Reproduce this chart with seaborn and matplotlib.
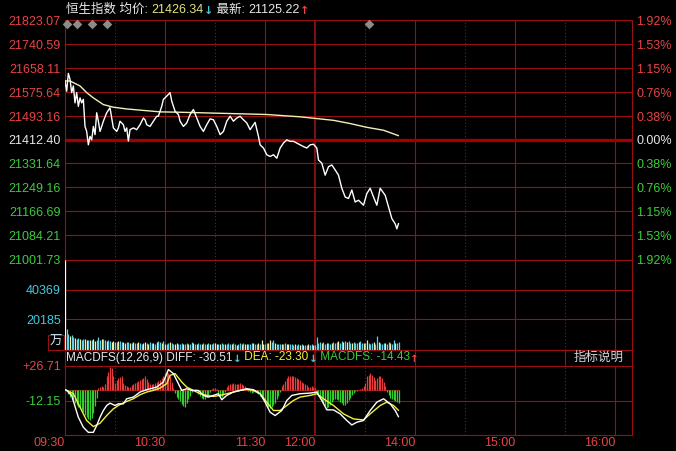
import numpy as np
import pandas as pd
import matplotlib
matplotlib.use("Agg")
import matplotlib.pyplot as plt
import seaborn as sns

# ---- price panel: minutes since 09:30 (lunch break removed) ----
price_min = [0, 1, 2, 3, 4, 5, 6, 7, 8, 9,
             10, 11, 12, 13, 14, 15, 16, 17, 18, 19,
             20, 21, 22, 23, 25, 27, 28, 29, 31, 32,
             33, 35, 36, 37, 38, 39, 41, 43, 45, 47,
             48, 49, 51, 53, 55, 56, 58, 59, 61, 63,
             64, 66, 68, 69, 71, 73, 75, 77, 79, 81,
             83, 85, 87, 89, 91, 93, 95, 97, 99, 101,
             103, 105, 107, 109, 111, 113, 114, 116, 117, 119,
             121, 123, 125, 127, 129, 131, 133, 135, 137, 139,
             141, 143, 145, 147, 149, 151, 152, 154, 156, 158,
             160, 162, 164, 166, 168, 170, 172, 174, 176, 179,
             181, 183, 185, 187, 189, 192, 194, 196, 198, 199,
             200]
price_val = [21614, 21579, 21640, 21620, 21574, 21597, 21539, 21574, 21527, 21556,
             21539, 21551, 21458, 21441, 21395, 21424, 21412, 21458, 21430, 21505,
             21476, 21441, 21458, 21476, 21505, 21522, 21487, 21453, 21441, 21453,
             21476, 21464, 21441, 21453, 21408, 21447, 21453, 21447, 21464, 21487,
             21481, 21464, 21458, 21476, 21493, 21493, 21527, 21551, 21562, 21574,
             21545, 21510, 21499, 21476, 21458, 21470, 21499, 21516, 21487, 21458,
             21441, 21464, 21484, 21481, 21458, 21430, 21441, 21476, 21493, 21476,
             21487, 21493, 21481, 21470, 21447, 21464, 21472, 21424, 21395, 21384,
             21361, 21355, 21361, 21349, 21384, 21401, 21412, 21407, 21407, 21401,
             21395, 21389, 21384, 21395, 21397, 21384, 21343, 21332, 21291, 21320,
             21326, 21309, 21291, 21246, 21216, 21211, 21240, 21199, 21205, 21188,
             21228, 21246, 21216, 21188, 21246, 21222, 21182, 21142, 21124, 21107,
             21125.22]
avg_min = [0, 3, 9, 13, 17, 23, 29, 37, 47, 57, 67, 81, 101, 121, 141, 151, 161, 171, 181, 191, 200]
avg_val = [21614, 21614, 21597, 21574, 21556, 21533, 21524, 21518, 21513, 21508, 21507,
           21505, 21502, 21499, 21491, 21485, 21479, 21468, 21455, 21445, 21426.34]
price_ticks = [21823.07, 21740.59, 21658.11, 21575.64, 21493.16, 21412.40,
               21331.64, 21249.16, 21166.69, 21084.21, 21001.73]
pct_labels = ["1.92%", "1.53%", "1.15%", "0.76%", "0.38%", "0.00%",
              "0.38%", "0.76%", "1.15%", "1.53%", "1.92%"]
prev_close = 21412.40
news_min = [1, 7, 16, 25, 182]

# ---- volume (万), one bar per minute ----
volume = [60554, 13700, 10100, 9200, 9500, 8300, 8000, 7400, 7800, 7000,
          6500, 7200, 6800, 6500, 6600, 6100, 6500, 6800, 6000, 6300,
          8500, 6400, 7200, 6900, 6100, 5800, 6200, 5500, 5200, 5800,
          5200, 5000, 5900, 5600, 5200, 4900, 4500, 5300, 5000, 4600,
          4500, 4800, 4200, 4500, 5100, 4400, 4000, 4500, 4800, 4200,
          4000, 5000, 4600, 4100, 3800, 5200, 5800, 5000, 4300, 5600,
          4000, 3800, 4600, 5200, 4400, 3600, 3900, 4200, 3400, 3800,
          4100, 3500, 3800, 4200, 3600, 3900, 4800, 4300, 3700, 4000,
          4500, 3800, 3600, 4600, 4000, 3700, 4300, 3900, 3500, 4200,
          4700, 3900, 3600, 4000, 4400, 3800, 3500, 3900, 4100, 3600,
          3800, 4500, 3900, 3300, 3700, 4200, 3800, 4600, 4000, 3500,
          3400, 3800, 4300, 4600, 3700, 3900, 4400, 4000, 6300, 3800,
          3500, 4500, 4100, 6700, 5000, 6500, 4200, 3600, 4000, 3800,
          3500, 3900, 4300, 3700, 3500, 3900, 3600, 3300, 3700, 3200,
          3500, 3000, 3400, 3200, 3000, 3300, 3600, 3100, 3400, 3000,
          3300, 8500, 4600, 5000, 4300, 4800, 4000, 4500, 4200, 3800,
          4600, 5200, 4500, 4800, 5500, 4600, 5800, 5000, 6000, 4800,
          5400, 4500, 4700, 5300, 4600, 4200, 4800, 5600, 4400, 4100,
          4500, 6300, 4200, 3600, 4400, 4800, 4000, 9200, 5000, 4200,
          3900, 4600, 4300, 3800, 5000, 4500, 4000, 6300, 4600, 4100,
          5200]
vol_dir = ("w"
           "ccyccyccyccyycycyycc" "cyccyccyyccyccyyccyc"
           "yccyccyycyccycyccycy" "ccyccyycccyccyccycyc"
           "cyccycyccyycyccycccy" "ccyccycyycccyccycyyc"
           "cyyccycccyccyycccycc" "ycyccyccyccccyccyccy"
           "cccyccycyccycccyccyc" "ycccyccycccyccyccycc")
vol_ticks = [20185, 40369]
vol_top = 60554

# ---- MACDFS(12,26,9) ----
macd_hist = [0, -2, -5, -8, -11, -13, -15, -17, -19, -21,
             -23, -25, -28, -31, -33, -34, -32, -26, -18, -9,
             2, 3, 4, 3, 6, 15, 20, 26, 24, 15,
             8, 11, 13, 14, 15, 8, 5, 4, 3, 3,
             5, 7, 8, 9, 10, 11, 12, 13, 15, 12,
             9, 7, 6, 6, 8, 9, 10, 11, 13, 16,
             19, 21, 19, 15, 9, 2, -4, -8, -11, -13,
             -16, -18, -19, -15, -11, -7, -3, 0, 1, -2,
             -5, -7, -9, -11, -10, -8, -6, -3, 1, 2,
             2, 1, -4, -7, -8, -6, -3, 3, 5, 6,
             7, 8, 7, 6, 7, 8, 6, 5, 4, 2,
             -2, -3, -4, -3, -3, -4, -5, -7, -9, -11,
             -14, -17, -20, -21, -19, -17, -15, -11, -7, -3,
             4, 7, 10, 13, 15, 16, 16, 15, 14, 13,
             12, 11, 9, 8, 6, 5, 3, 3, 4, 3,
             2, -3, -7, -10, -13, -16, -18, -21, -19, -17,
             -14, -12, -10, -11, -12, -14, -15, -17, -17, -15,
             -12, -9, -6, -4, -2, -1, 0, 1, 2, 4,
             8, 15, 17, 19, 17, 14, 11, 13, 15, 15,
             13, 9, 4, -3, -6, -9, -11, -12, -13, -14,
             -14.43]
diff_min = [0, 1, 4, 8, 11, 14, 17, 19, 21, 23, 25, 27, 30, 32, 35, 37, 41, 45, 49, 55,
            59, 62, 65, 68, 70, 73, 76, 80, 83, 86, 89, 92, 94, 97, 101, 105, 109, 113, 117, 120,
            123, 126, 130, 133, 136, 141, 147, 151, 154, 157, 161, 165, 169, 172, 175, 179, 183,
            187, 191, 195, 198, 200]
diff_val = [0, -0.8, -6.4, -31, -42.3, -48, -48, -40.4, -31, -23.4, -17.8, -15.1, -17.8, -15.9,
            -15.9, -10.2, -8.3, -2.6, 0, 3, 8.7, 22.7, 18.1, 6.8, -0.8, 1.1, -0.8, -0.8, -6.4,
            -8.3, -6.4, -4.5, -11.3, -6.4, -2.6, -0.8, 1.1, 0, -4.5, -14, -25.3, -29.1, -23.4,
            -12.1, -6.4, -4.5, -3.8, -2.6, -12.1, -22.7, -22.7, -27.2, -34.7, -39.7, -36.6,
            -34.7, -23.4, -14, -10.2, -15.9, -23.4, -30.51]
dea_min = [0, 1, 5, 9, 13, 17, 21, 25, 29, 33, 37, 41, 45, 49, 53, 57, 61, 63, 66, 70,
           73, 77, 81, 85, 89, 93, 97, 101, 105, 109, 113, 117, 121, 125, 129, 133, 137, 141,
           147, 151, 155, 161, 167, 173, 179, 183, 189, 193, 197, 200]
dea_val = [0, -0.8, -4.5, -19.6, -34.7, -41.5, -37.8, -29.1, -21.5, -16.6, -13.2, -10.2,
           -5.7, -2.6, -0.8, 1.9, 6.8, 16.2, 18.1, 8.7, 3, -0.8, -4.5, -6.4, -7.6, -6.4,
           -4.5, -2.6, -0.8, 0.4, -0.8, -4.5, -14, -23.4, -23.4, -17.8, -12.1, -8.3, -6.4,
           -4.5, -10.2, -17.8, -27.2, -32.9, -34, -27.2, -17.8, -14, -17.8, -23.30]
macd_ticks = [26.71, -12.15]
macd_labels = ["+26.71", "-12.15"]
macd_low = -51.0

# ---- time axis ----
time_ticks = [0, 60, 120, 150, 210, 270, 330]
time_labels = ["09:30", "10:30", "11:30", "12:00", "14:00", "15:00", "16:00"]
half_hours = [30, 90, 180, 240, 300]
session_len = 340
lunch = 150

GRID = "#9a1010"
RED = "#e84444"
GREEN = "#3ccc3c"
CYAN = "#46c8dc"
WHITE = "#e8e8e8"

sns.set_theme(style="dark", rc={"axes.facecolor": "black", "figure.facecolor": "black",
                                "axes.edgecolor": GRID, "axes.linewidth": 0.8})
plt.rcParams["font.family"] = ["Liberation Sans", "Noto Sans CJK SC", "DejaVu Sans"]
plt.rcParams["font.size"] = 9

W, H = 676, 451
fig = plt.figure(figsize=(W / 100, H / 100), dpi=100)


def panel(top, bottom):
    ax = fig.add_axes([65 / W, 1 - bottom / H, 567 / W, (bottom - top) / H])
    ax.set_facecolor("black")
    ax.set_xlim(0, session_len)
    for s in ax.spines.values():
        s.set_color(GRID)
        s.set_linewidth(0.8)
    for t in time_ticks[1:]:
        ax.axvline(t, color=GRID, lw=1.2 if t == lunch else 0.8, zorder=1)
    for t in half_hours:
        ax.axvline(t, color=GRID, lw=0.8, ls=(0, (1, 2)), zorder=1)
    ax.tick_params(length=0, pad=3, labelsize=9)
    ax.set_xticks([])
    return ax


# price
ax_p = panel(20, 259.5)
ax_p.set_ylim(price_ticks[-1], price_ticks[0])
for t in price_ticks[1:-1]:
    if t == prev_close:
        ax_p.axhline(t, color="#a00000", lw=2.4, zorder=1)
    else:
        ax_p.axhline(t, color=GRID, lw=0.8, zorder=1)
sns.lineplot(x=avg_min, y=avg_val, ax=ax_p, color="#f0f0b4", lw=1,
             estimator=None, sort=False, zorder=3)
sns.lineplot(x=price_min, y=price_val, ax=ax_p, color="white", lw=1,
             estimator=None, sort=False, zorder=4)
ax_p.scatter(news_min, [0.982] * len(news_min), marker="D", s=24, color="#8c8c8c",
             transform=ax_p.get_xaxis_transform(), clip_on=False, zorder=5, lw=0)
tick_cols = [RED if t > prev_close else (WHITE if t == prev_close else GREEN) for t in price_ticks]
ax_p.set_yticks(price_ticks)
ax_p.set_yticklabels([f"{t:.2f}" for t in price_ticks])
for lbl, c in zip(ax_p.get_yticklabels(), tick_cols):
    lbl.set_color(c)
ax_p.set_xlabel("")
ax_p.set_ylabel("")

ax_r = ax_p.twinx()
ax_r.set_ylim(price_ticks[-1], price_ticks[0])
ax_r.set_yticks(price_ticks)
ax_r.set_yticklabels(pct_labels)
for lbl, c in zip(ax_r.get_yticklabels(), tick_cols):
    lbl.set_color(c)
ax_r.tick_params(length=0, pad=3, labelsize=9)
for s in ax_r.spines.values():
    s.set_visible(False)
ax_r.grid(False)

# volume
ax_v = panel(259.5, 349.5)
ax_v.set_ylim(0, vol_top)
for t in vol_ticks:
    ax_v.axhline(t, color=GRID, lw=0.8, zorder=1)
cmap = {"w": "#ffffff", "c": "#5fd2e8", "y": "#f2f0a8"}
vx = np.arange(len(volume))
vcols = [cmap[d] for d in vol_dir[:len(volume)]]
ax_v.vlines(vx[:len(vcols)], 0, volume[:len(vcols)], colors=vcols, lw=0.9, zorder=3)
ax_v.set_yticks(vol_ticks)
ax_v.set_yticklabels([str(t) for t in vol_ticks])
for lbl in ax_v.get_yticklabels():
    lbl.set_color(CYAN)
fig.text(56 / W, 1 - 342 / H, "万", color="#cfe6f0", fontsize=9, ha="center", va="center",
         bbox=dict(boxstyle="square,pad=0.12", fc="none", ec=GRID, lw=0.8))

# indicator title row
ax_t = panel(349.5, 366)
ax_t.set_ylim(0, 1)
ax_t.set_yticks([])
ax_t.axvline(300, color=GRID, lw=0.8, zorder=2)
ax_t.axvspan(300.3, session_len, color="black", zorder=1.5)
ax_t.text(320, 0.5, "指标说明", color="#d8d8d8", fontsize=9, ha="center", va="center")


def chain(ax, x, y, parts, size):
    arrow_font = matplotlib.font_manager.FontProperties(family="DejaVu Sans", weight="bold",
                                                        size=size - 1)
    t = ax.annotate(parts[0][0], xy=(x, H - y), xycoords="figure pixels", color=parts[0][1],
                    fontsize=size, ha="left", va="center", annotation_clip=False, zorder=6)
    for s, c in parts[1:]:
        kw = dict(fontproperties=arrow_font) if s in ("↑", "↓") else dict(fontsize=size)
        t = ax.annotate(s, xy=(1, 0), xycoords=t, color=c, ha="left", va="bottom",
                        annotation_clip=False, zorder=6, **kw)


chain(ax_t, 66, 9.5, [("恒生指数 均价: ", WHITE), ("21426.34", "#e2e280"), ("↓", CYAN),
                      (" 最新: ", WHITE), ("21125.22", WHITE), ("↑", RED)], 9)
chain(ax_t, 66, 357.5, [("MACDFS(12,26,9) DIFF: -30.51", WHITE), ("↓", CYAN),
                        (" DEA: -23.30", "#f0f040"), ("↓", CYAN),
                        (" MACDFS: -14.43", GREEN), ("↑", RED)], 8.5)

# MACD
ax_m = panel(366, 435)
ax_m.set_ylim(macd_low, macd_ticks[0])
ax_m.axhline(macd_ticks[1], color=GRID, lw=0.8, zorder=1)
hx = np.arange(len(macd_hist))
ax_m.hlines(0, 0, hx[-1], color=GRID, lw=0.8, zorder=1)
hcols = ["#e83a3a" if v > 0 else "#2ed02e" for v in macd_hist]
ax_m.vlines(hx, 0, macd_hist, colors=hcols, lw=0.9, zorder=2)
sns.lineplot(x=diff_min, y=diff_val, ax=ax_m, color="white", lw=1,
             estimator=None, sort=False, zorder=4)
sns.lineplot(x=dea_min, y=dea_val, ax=ax_m, color="#f0f040", lw=1,
             estimator=None, sort=False, zorder=3)
ax_m.set_yticks(macd_ticks)
ax_m.set_yticklabels(macd_labels)
for lbl, c in zip(ax_m.get_yticklabels(), [RED, GREEN]):
    lbl.set_color(c)
ax_m.set_xticks(time_ticks)
ax_m.set_xticklabels(time_labels, ha="right", color=RED)
ax_m.tick_params(axis="x", length=0, pad=1.5)
ax_m.set_xlabel("")
ax_m.set_ylabel("")

fig.savefig("out.png", dpi=100, facecolor="black")
